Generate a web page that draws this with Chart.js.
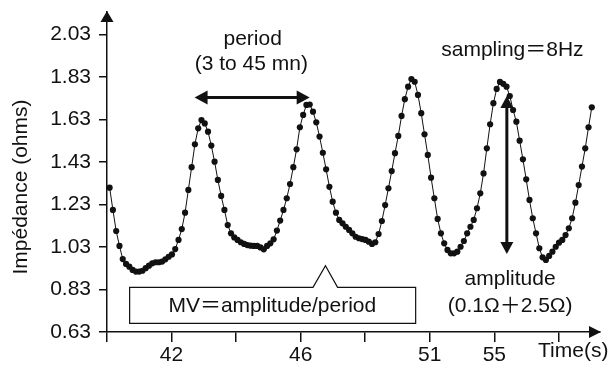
<!DOCTYPE html>
<html>
<head>
<meta charset="utf-8">
<script src="https://cdn.jsdelivr.net/npm/chart.js@4.4.1/dist/chart.umd.min.js"></script>
<style>
  html, body { margin: 0; padding: 0; background: #fff; }
  #wrap { width: 615px; height: 368px; }
</style>
</head>
<body>
<div id="wrap"><canvas id="chart"></canvas></div>
<script>
// impedance samples (ohms), one every sample at 8 Hz
const impedance = [
  1.309, 1.204, 1.105, 1.035, 0.973, 0.950, 0.937, 0.922, 0.914, 0.914,
  0.918, 0.930, 0.942, 0.953, 0.958, 0.958, 0.961, 0.972, 0.984, 0.995,
  1.020, 1.063, 1.114, 1.191, 1.298, 1.405, 1.513, 1.588, 1.627, 1.611,
  1.572, 1.507, 1.431, 1.345, 1.270, 1.204, 1.133, 1.094, 1.075, 1.063,
  1.052, 1.044, 1.039, 1.036, 1.035, 1.035, 1.028, 1.019, 1.035, 1.047,
  1.066, 1.107, 1.154, 1.204, 1.259, 1.326, 1.405, 1.489, 1.593, 1.651,
  1.698, 1.700, 1.666, 1.616, 1.549, 1.473, 1.395, 1.313, 1.243, 1.191,
  1.157, 1.141, 1.125, 1.110, 1.094, 1.078, 1.071, 1.067, 1.063, 1.055,
  1.044, 1.052, 1.091, 1.152, 1.227, 1.306, 1.387, 1.471, 1.552, 1.646,
  1.725, 1.784, 1.820, 1.807, 1.745, 1.659, 1.560, 1.463, 1.356, 1.259,
  1.162, 1.094, 1.047, 1.016, 1.000, 1.000, 1.008, 1.031, 1.058, 1.094,
  1.125, 1.157, 1.212, 1.282, 1.376, 1.494, 1.607, 1.706, 1.773, 1.806,
  1.797, 1.784, 1.740, 1.674, 1.619, 1.530, 1.442, 1.348, 1.251, 1.165,
  1.094, 1.024, 0.981, 0.969, 0.988, 1.008, 1.031, 1.050, 1.063, 1.086,
  1.118, 1.165, 1.238, 1.321, 1.408, 1.494, 1.593, 1.687
];
const xTickLabels = ['', '42', '', '46', '', '51', '55', ''];
const yTickValues = [0.63, 0.83, 1.03, 1.23, 1.43, 1.63, 1.83, 2.03];

// x axis runs in sample numbers
const X_MIN = -0.8, X_STEP = 19.68, X_MAX = 149.5;
const Y_MIN = 0.63, Y_MAX = 2.135;

const FONT = '21px "Liberation Sans", Arial, "Noto Sans CJK JP", sans-serif';
const INK = '#111';

function head(ctx, x, y, dx, dy, len, half) {
  // filled triangle with tip at (x,y) pointing along (dx,dy)
  ctx.beginPath();
  ctx.moveTo(x, y);
  ctx.lineTo(x - dx * len - dy * half, y - dy * len - dx * half);
  ctx.lineTo(x - dx * len + dy * half, y - dy * len + dx * half);
  ctx.closePath();
  ctx.fill();
}

const notes = {
  id: 'notes',
  afterDraw(chart) {
    const ctx = chart.ctx, a = chart.chartArea;
    const xs = chart.scales.x, ys = chart.scales.y;
    const px = v => xs.getPixelForValue(v), py = v => ys.getPixelForValue(v);
    ctx.save();
    ctx.fillStyle = INK;
    ctx.strokeStyle = INK;

    // axis arrows
    head(ctx, a.left, a.top - 1, 0, -1, 11, 6.5);
    head(ctx, a.right + 1, a.bottom, 1, 0, 12, 6);

    // period arrow
    const p1 = px(25.9), p2 = px(61.0), pY = py(1.733);
    ctx.lineWidth = 3;
    ctx.beginPath(); ctx.moveTo(p1 + 8, pY); ctx.lineTo(p2 - 8, pY); ctx.stroke();
    head(ctx, p1, pY, -1, 0, 13, 7);
    head(ctx, p2, pY, 1, 0, 13, 7);

    // amplitude arrow
    const aX = px(121.1), a1 = py(1.740), a2 = py(0.997);
    ctx.beginPath(); ctx.moveTo(aX, a1 + 8); ctx.lineTo(aX, a2 - 8); ctx.stroke();
    head(ctx, aX, a1, 0, -1, 12, 6.5);
    head(ctx, aX, a2, 0, 1, 12, 6.5);

    // MV call-out box
    const bL = px(6.1), bR = px(93.3), bT = py(0.840), bB = py(0.671);
    const nL = px(62.0), nR = px(69.5), nX = px(65.8), nY = py(0.942);
    ctx.lineWidth = 1.2;
    ctx.fillStyle = '#fff';
    ctx.beginPath();
    ctx.moveTo(bL, bT); ctx.lineTo(nL, bT); ctx.lineTo(nX, nY); ctx.lineTo(nR, bT);
    ctx.lineTo(bR, bT); ctx.lineTo(bR, bB); ctx.lineTo(bL, bB); ctx.closePath();
    ctx.fill(); ctx.stroke();

    ctx.fillStyle = INK;
    ctx.font = FONT;
    ctx.textAlign = 'center';
    ctx.textBaseline = 'alphabetic';
    ctx.fillText('period', px(43.6), py(1.980));
    ctx.fillText('(3 to 45 mn)', px(43.2), py(1.860));
    ctx.fillText('sampling＝8Hz', px(122.8), py(1.928));
    ctx.fillText('amplitude', px(122.1), py(0.849));
    ctx.fillText('(0.1Ω＋2.5Ω)', px(122.1), py(0.723));
    ctx.fillText('MV＝amplitude/period', px(49.6), py(0.723));

    ctx.textAlign = 'left';
    ctx.fillText('Time(s)', px(130.6), a.bottom + 25);

    ctx.translate(a.left - 86, a.bottom - 145);
    ctx.rotate(-Math.PI / 2);
    ctx.textAlign = 'center';
    ctx.textBaseline = 'middle';
    ctx.fillText('Impédance (ohms)', 0, 0);
    ctx.restore();
  }
};

new Chart(document.getElementById('chart'), {
  type: 'line',
  data: {
    datasets: [{
      data: impedance.map((v, i) => ({ x: i, y: v })),
      borderColor: INK,
      borderWidth: 1,
      pointRadius: 3.1,
      pointBackgroundColor: INK,
      pointBorderWidth: 0,
      tension: 0,
      clip: false
    }]
  },
  options: {
    responsive: true,
    maintainAspectRatio: false,
    animation: false,
    devicePixelRatio: 1,
    layout: { padding: { left: 0, right: 15, top: 12, bottom: 0 } },
    plugins: { legend: { display: false }, tooltip: { enabled: false } },
    scales: {
      x: {
        type: 'linear',
        min: X_MIN,
        max: X_MAX,
        afterBuildTicks: s => { s.ticks = xTickLabels.map((_, k) => ({ value: X_MIN + k * X_STEP })); },
        afterFit: s => { s.height = 36; s.paddingLeft = 0; s.paddingRight = 0; },
        ticks: {
          autoSkip: false, maxRotation: 0, padding: 1,
          color: INK, font: { family: '"Liberation Sans", Arial, sans-serif', size: 21 },
          callback: (v, i) => xTickLabels[i]
        },
        grid: { drawOnChartArea: false, drawTicks: true, tickLength: 10, color: INK, lineWidth: 1.5 },
        border: { display: true, color: INK, width: 1.5 }
      },
      y: {
        min: Y_MIN,
        max: Y_MAX,
        afterBuildTicks: s => { s.ticks = yTickValues.map(v => ({ value: v })); },
        afterFit: s => { s.width = 107; s.paddingTop = 0; s.paddingBottom = 0; },
        ticks: {
          padding: 8,
          color: INK, font: { family: '"Liberation Sans", Arial, sans-serif', size: 21 },
          callback: v => v.toFixed(2)
        },
        grid: { drawOnChartArea: false, drawTicks: true, tickLength: 8, color: INK, lineWidth: 1.5 },
        border: { display: true, color: INK, width: 1.5 }
      }
    }
  },
  plugins: [notes]
});
</script>
</body>
</html>
